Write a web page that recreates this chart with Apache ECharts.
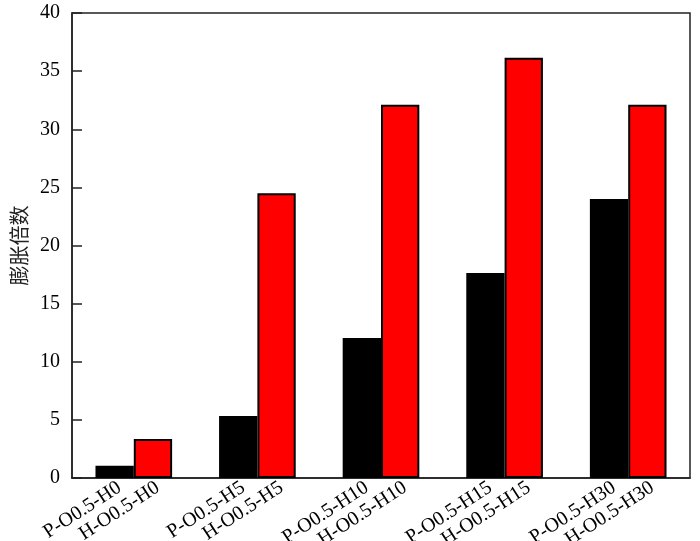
<!DOCTYPE html>
<html>
<head>
<meta charset="utf-8">
<script src="https://cdn.jsdelivr.net/npm/echarts@6/dist/echarts.min.js"></script>
<style>html,body{margin:0;padding:0;background:#fff}#c{width:700px;height:541px}</style>
</head>
<body>
<div id="c"></div>
<script>
var groups = ['H0', 'H5', 'H10', 'H15', 'H30'];
var pLabels = ['P-O0.5-H0', 'P-O0.5-H5', 'P-O0.5-H10', 'P-O0.5-H15', 'P-O0.5-H30'];
var hLabels = ['H-O0.5-H0', 'H-O0.5-H5', 'H-O0.5-H10', 'H-O0.5-H15', 'H-O0.5-H30'];
var pValues = [1.05, 5.33, 12.04, 17.63, 24.0];
var hValues = [3.35, 24.5, 32.1, 36.15, 32.1];
var yTicks = [0, 5, 10, 15, 20, 25, 30, 35, 40];
var yName = '膨胀倍数';

var barFrac = 0.31;
var pPos = [], hPos = [];
for (var i = 0; i < groups.length; i++) {
  pPos.push(i + 0.5 - barFrac / 2 + 0.04);
  hPos.push(i + 0.5 + barFrac / 2 + 0.04);
}

var chart = echarts.init(document.getElementById('c'));
var serif = '"Liberation Serif", "Times New Roman", serif';

function labelAxis(positions, texts) {
  return {
    type: 'value',
    min: 0,
    max: groups.length,
    position: 'bottom',
    axisLine: { show: false },
    axisTick: { show: false },
    splitLine: { show: false },
    axisLabel: {
      customValues: positions,
      formatter: function (v) { return texts[Math.floor(v)]; },
      rotate: 33,
      margin: 8,
      hideOverlap: false,
      showMinLabel: true,
      showMaxLabel: true,
      fontFamily: serif,
      fontSize: 20,
      color: '#000'
    }
  };
}

chart.setOption({
  animation: false,
  grid: { left: 72, top: 13, right: 10, bottom: 63, containLabel: false, outerBoundsMode: 'none',
          show: true, borderColor: '#222', borderWidth: 1.5, backgroundColor: 'transparent' },
  xAxis: [{
    type: 'category',
    data: groups,
    axisLine: { lineStyle: { color: '#222', width: 1.5 } },
    axisTick: { show: false },
    axisLabel: { show: false },
    splitLine: { show: false }
  }, labelAxis(pPos, pLabels), labelAxis(hPos, hLabels)],
  yAxis: {
    type: 'value',
    min: 0,
    max: 40,
    interval: 5,
    name: yName,
    nameLocation: 'middle',
    nameGap: 40,
    nameRotate: 90,
    nameTextStyle: { fontFamily: '"Noto Sans CJK SC"', fontSize: 20, color: '#222' },
    axisLine: { show: true, lineStyle: { color: '#222', width: 1.5 } },
    axisTick: { show: true, inside: true, length: 10, lineStyle: { color: '#222', width: 1.5 } },
    axisLabel: {
      margin: 12, fontFamily: serif, fontSize: 20, color: '#000', hideOverlap: false,
      showMinLabel: true, showMaxLabel: true,
      customValues: yTicks
    },
    splitLine: { show: false }
  },
  series: [{
    type: 'bar',
    name: 'P',
    data: pValues,
    barWidth: (barFrac * 100) + '%',
    barGap: '0%',
    itemStyle: { color: '#000', borderColor: '#000', borderWidth: 1.5 }
  }, {
    type: 'bar',
    name: 'H',
    data: hValues,
    barWidth: (barFrac * 100) + '%',
    barGap: '0%',
    itemStyle: { color: '#ff0000', borderColor: '#000', borderWidth: 2 }
  }]
});
</script>
</body>
</html>
